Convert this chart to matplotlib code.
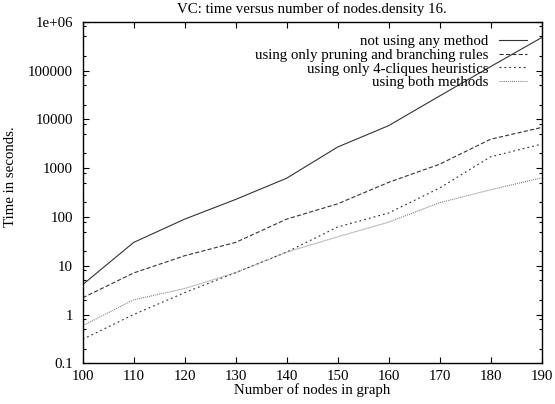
import matplotlib
matplotlib.use("Agg")
import matplotlib.pyplot as plt
import numpy as np

nodes = [100, 110, 120, 130, 140, 150, 160, 170, 180, 190]
no_method = [4.1, 30, 90, 228, 620, 2700, 7400, 30000, 120000, 470000]
pruning = [2.2, 7.1, 16, 30, 90, 185, 510, 1200, 3900, 6800]
cliques = [0.31, 1.0, 2.8, 7.2, 19, 62, 120, 390, 1700, 3100]
both = [0.59, 2.0, 3.4, 7.2, 19, 39, 78, 195, 360, 630]
labels = ["not using any method", "using only pruning and branching rules",
          "using only 4-cliques heuristics", "using both methods"]
yticks = [0.1, 1, 10, 100, 1000, 10000, 100000, 1000000]
yticklabels = ["0.1", "1", "10", "100", "1000", "10000", "100000", "1e+06"]

FS = 10.7
plt.rcParams['font.family'] = ['Liberation Serif', 'DejaVu Serif']
plt.rcParams['font.size'] = FS
plt.rcParams['lines.scale_dashes'] = False

fig = plt.figure(figsize=(5.55, 4.04), dpi=100)
ax = fig.add_axes([82.7/555, 1-363.3/404, (541.5-82.7)/555, (363.3-21.7)/404])

ax.plot(nodes, no_method, color='#333333', lw=0.8, ls='-', label=labels[0])
ax.plot(nodes, pruning, color='#333333', lw=0.8, ls=(0, (3.0, 1.6)), label=labels[1])
ax.plot(nodes, cliques, color='#333333', lw=0.8, ls=(0, (1.3, 2.2)), label=labels[2])
ax.plot(nodes, both, color='#777777', lw=0.8, ls=(0, (0.7, 0.8)), label=labels[3])

ax.set_yscale('log')
ax.set_xlim(100, 190)
ax.set_ylim(0.1, 1e6)
ax.set_xticks(nodes)
ax.set_yticks(yticks)
ax.set_yticklabels(yticklabels)
minors = [m * 10.0**e for e in range(-1, 6) for m in (2, 5, 8)]
ax.set_yticks(minors, minor=True)
ax.yaxis.set_minor_formatter(matplotlib.ticker.NullFormatter())
ax.tick_params(which='major', direction='in', length=4.3, width=0.8,
               top=True, right=True, labelsize=FS)
ax.tick_params(axis='x', which='major', pad=5)
ax.tick_params(axis='y', which='major', pad=7)
ax.tick_params(which='minor', direction='in', length=2.2, width=0.8,
               top=False, right=True)
for s in ax.spines.values():
    s.set_linewidth(1.0)

ax.set_title("VC: time versus number of nodes.density 16.", fontsize=FS, pad=6)
ax.set_xlabel("Number of nodes in graph", fontsize=FS, labelpad=0)
ax.set_ylabel("Time in seconds.", fontsize=FS)
ax.yaxis.set_label_coords((17 - 82.7) / 458.8, (363.3 - 176.5) / 341.6)

leg = ax.legend(loc='upper right', bbox_to_anchor=(1 - 15/459, 1 - 13/341),
                markerfirst=False, frameon=False, handlelength=1.85,
                handletextpad=0.7, labelspacing=0.02, borderaxespad=0,
                borderpad=0, fontsize=FS)

fig.savefig("out.png", dpi=100)
